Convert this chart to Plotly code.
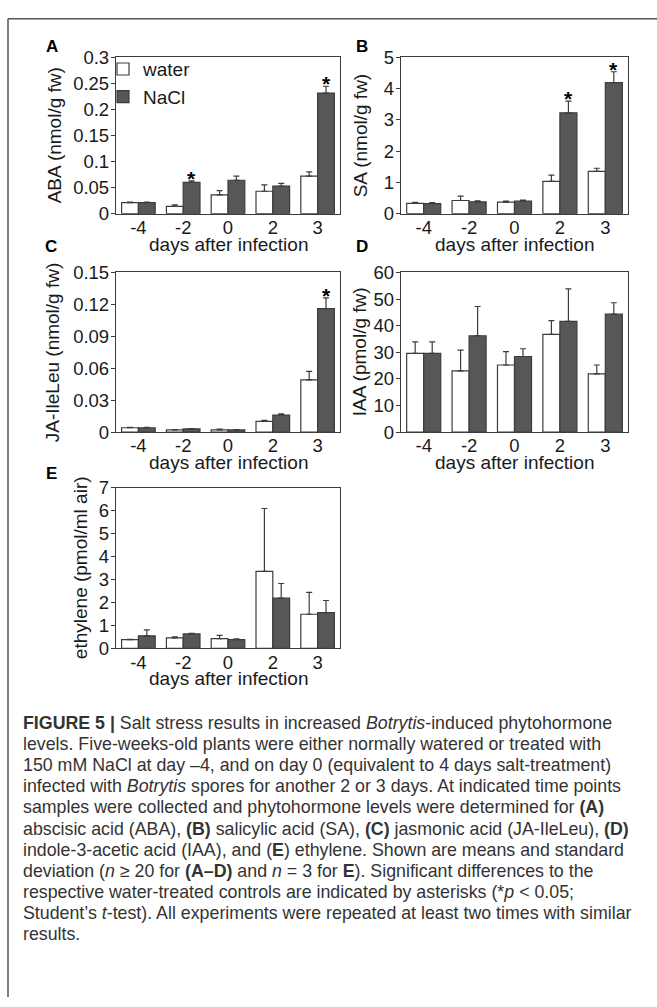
import plotly.graph_objects as go

# ---------------- data ----------------
days = ["-4", "-2", "0", "2", "3"]
series_names = ["water", "NaCl"]

# (A) ABA (nmol/g fw)
aba_water = [0.021, 0.014, 0.036, 0.043, 0.072]
aba_water_sd = [0.001, 0.003, 0.008, 0.012, 0.008]
aba_nacl = [0.021, 0.060, 0.064, 0.053, 0.231]
aba_nacl_sd = [0.001, 0.003, 0.008, 0.005, 0.013]
aba_sig = [0, 1, 0, 0, 1]
aba_ticks = [0, 0.05, 0.1, 0.15, 0.2, 0.25, 0.3]
aba_ticklabels = ["0", "0.05", "0.1", "0.15", "0.2", "0.25", "0.3"]

# (B) SA (nmol/g fw)
sa_water = [0.33, 0.42, 0.37, 1.03, 1.35]
sa_water_sd = [0.03, 0.14, 0.03, 0.20, 0.10]
sa_nacl = [0.32, 0.38, 0.40, 3.22, 4.18]
sa_nacl_sd = [0.03, 0.03, 0.03, 0.37, 0.35]
sa_sig = [0, 0, 0, 1, 1]
sa_ticks = [0, 1, 2, 3, 4, 5]
sa_ticklabels = ["0", "1", "2", "3", "4", "5"]

# (C) JA-IleLeu (nmol/g fw)
ja_water = [0.004, 0.002, 0.002, 0.010, 0.049]
ja_water_sd = [0.0003, 0.0003, 0.0008, 0.001, 0.008]
ja_nacl = [0.004, 0.003, 0.002, 0.016, 0.116]
ja_nacl_sd = [0.0003, 0.0003, 0.0003, 0.001, 0.010]
ja_sig = [0, 0, 0, 0, 1]
ja_ticks = [0, 0.03, 0.06, 0.09, 0.12, 0.15]
ja_ticklabels = ["0", "0.03", "0.06", "0.09", "0.12", "0.15"]

# (D) IAA (pmol/g fw)
iaa_water = [29.6, 23.0, 25.2, 36.7, 21.9]
iaa_water_sd = [4.3, 7.8, 5.0, 5.2, 3.3]
iaa_nacl = [29.6, 36.2, 28.4, 41.6, 44.3]
iaa_nacl_sd = [4.3, 11.0, 2.9, 12.2, 4.3]
iaa_sig = [0, 0, 0, 0, 0]
iaa_ticks = [0, 10, 20, 30, 40, 50, 60]
iaa_ticklabels = ["0", "10", "20", "30", "40", "50", "60"]

# (E) ethylene (pmol/ml air)
eth_water = [0.38, 0.46, 0.43, 3.36, 1.49]
eth_water_sd = [0.02, 0.04, 0.14, 2.74, 0.95]
eth_nacl = [0.55, 0.63, 0.38, 2.19, 1.56]
eth_nacl_sd = [0.26, 0.03, 0.04, 0.64, 0.53]
eth_sig = [0, 0, 0, 0, 0]
eth_ticks = [0, 1, 2, 3, 4, 5, 6, 7]
eth_ticklabels = ["0", "1", "2", "3", "4", "5", "6", "7"]

x_title = "days after infection"

caption_lines = [
    "<b>FIGURE 5 |</b> Salt stress results in increased <i>Botrytis</i>-induced phytohormone",
    "levels. Five-weeks-old plants were either normally watered or treated with",
    "150 mM NaCl at day –4, and on day 0 (equivalent to 4 days salt-treatment)",
    "infected with <i>Botrytis</i> spores for another 2 or 3 days. At indicated time points",
    "samples were collected and phytohormone levels were determined for <b>(A)</b>",
    "abscisic acid (ABA), <b>(B)</b> salicylic acid (SA), <b>(C)</b> jasmonic acid (JA-IleLeu), <b>(D)</b>",
    "indole-3-acetic acid (IAA), and (<b>E</b>) ethylene. Shown are means and standard",
    "deviation (<i>n</i> ≥ 20 for <b>(A–D)</b> and <i>n</i> = 3 for <b>E</b>). Significant differences to the",
    "respective water-treated controls are indicated by asterisks (*<i>p</i> &lt; 0.05;",
    "Student’s <i>t</i>-test). All experiments were repeated at least two times with similar",
    "results.",
]

# ---------------- layout helpers ----------------
W, H = 657, 1007
FONT = "Liberation Sans, Arial, sans-serif"
TXT = "#1a1a1a"
LINE = "#3c3c3c"
WATER_FILL = "#ffffff"
NACL_FILL = "#575757"
BARGAP = 0.25


def fx(p):
    return p / W


def fy(p):
    return 1 - p / H


panels = [
    dict(letter="A", title="ABA (nmol/g fw)", water=aba_water, wsd=aba_water_sd,
         nacl=aba_nacl, nsd=aba_nacl_sd, sig=aba_sig, ticks=aba_ticks,
         ticklabels=aba_ticklabels, box=(116, 340, 47, 207), title_x=54,
         letter_xy=(52, 36)),
    dict(letter="B", title="SA (nmol/g fw)", water=sa_water, wsd=sa_water_sd,
         nacl=sa_nacl, nsd=sa_nacl_sd, sig=sa_sig, ticks=sa_ticks,
         ticklabels=sa_ticklabels, box=(401, 628, 47, 207), title_x=360,
         letter_xy=(362, 36)),
    dict(letter="C", title="JA-IleLeu (nmol/g fw)", water=ja_water, wsd=ja_water_sd,
         nacl=ja_nacl, nsd=ja_nacl_sd, sig=ja_sig, ticks=ja_ticks,
         ticklabels=ja_ticklabels, box=(116, 340, 267, 430), title_x=52,
         letter_xy=(51, 241)),
    dict(letter="D", title="IAA (pmol/g fw)", water=iaa_water, wsd=iaa_water_sd,
         nacl=iaa_nacl, nsd=iaa_nacl_sd, sig=iaa_sig, ticks=iaa_ticks,
         ticklabels=iaa_ticklabels, box=(401, 628, 267, 430), title_x=359,
         letter_xy=(362, 241)),
    dict(letter="E", title="ethylene (pmol/ml air)", water=eth_water, wsd=eth_water_sd,
         nacl=eth_nacl, nsd=eth_nacl_sd, sig=eth_sig, ticks=eth_ticks,
         ticklabels=eth_ticklabels, box=(116, 340, 487, 651), title_x=80,
         letter_xy=(51, 472)),
]

fig = go.Figure()
annotations = []
xpos = list(range(len(days)))

for k, p in enumerate(panels):
    n = k + 1
    xa = "x" if n == 1 else f"x{n}"
    ya = "y" if n == 1 else f"y{n}"
    x0, x1, yt, yb = p["box"]
    for name, vals, sd, fill in [("water", p["water"], p["wsd"], WATER_FILL),
                                 ("NaCl", p["nacl"], p["nsd"], NACL_FILL)]:
        fig.add_trace(go.Bar(
            x=xpos, y=vals, name=name, xaxis=xa, yaxis=ya,
            marker=dict(color=fill, line=dict(color=LINE, width=1.2)),
            error_y=dict(type="data", symmetric=False, array=sd,
                         arrayminus=[0] * len(sd), color=LINE,
                         thickness=1.2, width=3),
            showlegend=(n == 1), legendgroup=name,
        ))
    axis_common = dict(showline=True, mirror=True, linecolor=LINE, linewidth=1.3,
                       showgrid=False, zeroline=False,
                       tickfont=dict(family=FONT, size=18.5, color=TXT))
    fig.layout[("xaxis" if n == 1 else f"xaxis{n}")] = dict(
        axis_common, domain=[fx(x0), fx(x1)], anchor=ya,
        range=[-0.5, len(days) - 0.5], tickmode="array", tickvals=xpos,
        ticktext=days, ticks="", ticklabelstandoff=-3)
    fig.layout[("yaxis" if n == 1 else f"yaxis{n}")] = dict(
        axis_common, domain=[fy(yb), fy(yt)], anchor=xa,
        range=[p["ticks"][0], p["ticks"][-1]], tickmode="array",
        tickvals=p["ticks"], ticktext=p["ticklabels"], ticks="outside",
        ticklen=4, tickcolor=LINE, tickwidth=1.2, ticklabelstandoff=-2)

    # y-axis title
    annotations.append(dict(text=p["title"], xref="paper", yref="paper",
                            x=fx(p["title_x"]), y=fy((yt + yb) / 2), textangle=-90,
                            showarrow=False, xanchor="center", yanchor="middle",
                            font=dict(family=FONT, size=19, color=TXT)))
    # x-axis title
    annotations.append(dict(text=x_title, xref="paper", yref="paper",
                            x=fx((x0 + x1) / 2), y=fy(yb + 31),
                            showarrow=False, xanchor="center", yanchor="middle",
                            font=dict(family=FONT, size=19, color=TXT)))
    # panel letter
    lx, ly = p["letter_xy"]
    annotations.append(dict(text=f"<b>{p['letter']}</b>", xref="paper", yref="paper",
                            x=fx(lx), y=fy(ly), showarrow=False,
                            xanchor="center", yanchor="middle",
                            font=dict(family=FONT, size=17, color="#000")))
    # significance asterisks above NaCl bars
    off = (1 - BARGAP) / 4
    for i, s in enumerate(p["sig"]):
        if s:
            annotations.append(dict(text="<b>*</b>", xref=xa, yref=ya,
                                    x=i + off, y=p["nacl"][i] + p["nsd"][i],
                                    showarrow=False, xanchor="center",
                                    yanchor="bottom", yshift=-11,
                                    font=dict(family=FONT, size=21, color="#000")))

# caption
for j, line in enumerate(caption_lines):
    annotations.append(dict(text=line, xref="paper", yref="paper",
                            x=fx(21), y=fy(727 + j * 21.6), showarrow=False,
                            xanchor="left", yanchor="middle", align="left",
                            font=dict(family=FONT, size=17.8, color="#333")))

shapes = [
    dict(type="line", xref="paper", yref="paper", x0=fx(8), x1=1, y0=fy(8), y1=fy(8),
         line=dict(color="#555", width=1.5)),
    dict(type="line", xref="paper", yref="paper", x0=fx(8), x1=fx(8), y0=fy(8), y1=0,
         line=dict(color="#555", width=1.5)),
]

fig.update_layout(
    width=W, height=H, margin=dict(l=0, r=0, t=0, b=0),
    paper_bgcolor="white", plot_bgcolor="white",
    barmode="group", bargap=BARGAP, bargroupgap=0,
    font=dict(family=FONT, color=TXT),
    legend=dict(x=fx(103), y=fy(40), xanchor="left", yanchor="top",
                bgcolor="rgba(0,0,0,0)", font=dict(family=FONT, size=19, color=TXT),
                tracegroupgap=0, itemwidth=30),
    annotations=annotations, shapes=shapes,
)

fig.write_html(
    "out.html",
    config={"displayModeBar": False},
    post_script="document.body.style.margin='0';document.body.style.overflow='hidden';",
)
